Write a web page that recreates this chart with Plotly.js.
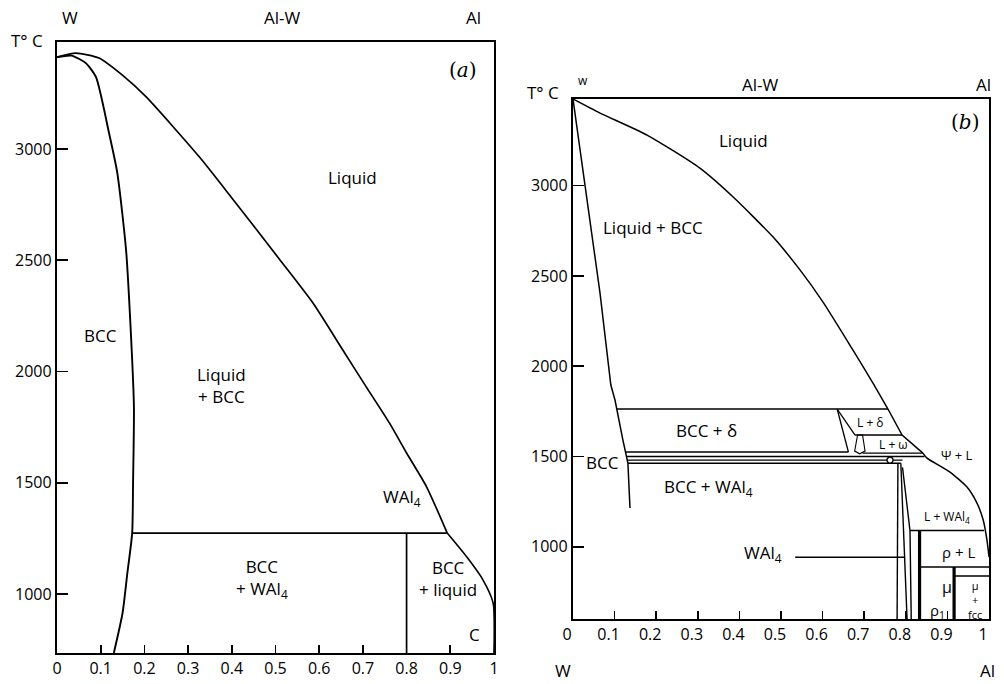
<!DOCTYPE html>
<html><head><meta charset="utf-8">
<script src="https://cdn.plot.ly/plotly-3.0.1.min.js"></script>
<style>html,body{margin:0;padding:0;background:#fff}#chart{width:1004px;height:684px}</style>
</head><body><div id="chart"></div>
<script>
// ---------- Panel (a) data: x = mole fraction Al, T in deg C ----------
const aTickX = [0,0.1,0.2,0.3,0.4,0.5,0.6,0.7,0.8,0.9,1];
const aTickXText = ["0","0.1","0.2","0.3","0.4","0.5","0.6","0.7","0.8","0.9","1"];
const aTickT = [1000,1500,2000,2500,3000];
const aLiquidusX = [0, 0.043, 0.096, 0.149, 0.204, 0.326, 0.401, 0.509, 0.585, 0.654, 0.708, 0.761, 0.80, 0.846, 0.893];
const aLiquidusT = [3413, 3431, 3409, 3333, 3234, 2964, 2778, 2505, 2310, 2097, 1930, 1768, 1634, 1481, 1274];
const aSolidusX = [0, 0.033, 0.066, 0.089, 0.119, 0.138, 0.158, 0.169, 0.176, 0.174, 0.172, 0.161, 0.15, 0.13];
const aSolidusT = [3413, 3420, 3386, 3324, 3072, 2892, 2546, 2173, 1840, 1500, 1274, 1095, 915, 735];
const aEutecticX = [0.172, 0.893];
const aEutecticT = [1274, 1274];
const aWal4X = [0.8, 0.8];
const aWal4T = [1274, 735];
const aAlSideX = [0.893, 0.938, 0.975, 0.998, 1.0];
const aAlSideT = [1274, 1166, 1063, 960, 735];

// ---------- Panel (b) data ----------
const bTickT = [1000,1500,2000,2500,3000];
const bLiquidusX = [0, 0.065, 0.178, 0.305, 0.385, 0.481, 0.546, 0.601, 0.673, 0.721, 0.757];
const bLiquidusT = [3480, 3402, 3280, 3097, 2937, 2715, 2532, 2355, 2089, 1907, 1763];
const bPeritX = [0.757, 0.791, 0.841];
const bPeritT = [1763, 1619, 1519];
const bPsiX = [0.841, 0.851, 0.906, 0.947, 0.971, 0.986, 0.995, 1.0];
const bPsiT = [1519, 1491, 1414, 1331, 1242, 1148, 1037, 943];
const bSolidusX = [0, 0.012, 0.022, 0.065, 0.091, 0.101, 0.120, 0.132, 0.137];
const bSolidusT = [3480, 3280, 3092, 2405, 1896, 1813, 1591, 1464, 1215];
const bDeltaTopX = [0.105, 0.757];
const bDeltaTopT = [1763, 1763];
const bBand1X = [0.125, 0.662];  const bBand1T = [1525, 1525];
const bBand2X = [0.128, 0.845];  const bBand2T = [1500, 1500];
const bBand3X = [0.130, 0.792];  const bBand3T = [1480, 1480];
const bBand4X = [0.132, 0.788];  const bBand4T = [1463, 1463];
const bDeltaAX = [0.635, 0.678]; const bDeltaAT = [1763, 1619];
const bDeltaBX = [0.635, 0.662]; const bDeltaBT = [1763, 1525];
const bLdeltaX = [0.678, 0.791]; const bLdeltaT = [1619, 1619];
const bLensX = [0.684, 0.677, 0.689, 0.702, 0.696, 0.684];
const bLensT = [1619, 1530, 1515, 1530, 1619, 1619];
const bLomegaX = [0.696, 0.841]; const bLomegaT = [1519, 1519];
const bCircleX = [0.762]; const bCircleT = [1480];
const bLineAX = [0.781, 0.779]; const bLineAT = [1463, 600];
const bLineBX = [0.788, 0.803]; const bLineBT = [1463, 600];
const bLineCX = [0.792, 0.810, 0.813]; const bLineCT = [1440, 1090, 600];
const bLWal4X = [0.810, 0.988]; const bLWal4T = [1090, 1090];
const bThick1X = [0.833, 0.833]; const bThick1T = [1090, 600];
const bRhoLX = [0.833, 1.0]; const bRhoLT = [888, 888];
const bThick2X = [0.916, 0.916]; const bThick2T = [888, 600];
const bMuFccX = [0.916, 1.0]; const bMuFccT = [838, 838];
const bPointerX = [0.534, 0.796]; const bPointerT = [942, 942];

const FONT = "Open Sans, Liberation Sans, sans-serif";

function ln(x, y, ax, w, shape) {
  return {x: x, y: y, xaxis: ax[0], yaxis: ax[1], type: 'scatter', mode: 'lines',
    line: {color: '#000', width: w || 1.5, shape: shape || 'linear', smoothing: 0.6},
    hoverinfo: 'skip', showlegend: false};
}
const A = ['x','y'], B = ['x2','y2'];
const traces = [
  ln(aLiquidusX, aLiquidusT, A, 1.7, 'spline'),
  ln(aSolidusX, aSolidusT, A, 1.9, 'spline'),
  ln(aEutecticX, aEutecticT, A, 1.7),
  ln(aWal4X, aWal4T, A, 1.7),
  ln(aAlSideX, aAlSideT, A, 1.6, 'spline'),

  ln(bLiquidusX, bLiquidusT, B, 1.5, 'spline'),
  ln(bPeritX, bPeritT, B, 1.5),
  ln(bPsiX, bPsiT, B, 1.5, 'spline'),
  ln(bSolidusX, bSolidusT, B, 1.5),
  ln(bDeltaTopX, bDeltaTopT, B, 1.5),
  ln(bBand1X, bBand1T, B, 1.4),
  ln(bBand2X, bBand2T, B, 1.4),
  ln(bBand3X, bBand3T, B, 1.2),
  ln(bBand4X, bBand4T, B, 1.5),
  ln(bDeltaAX, bDeltaAT, B, 1.3),
  ln(bDeltaBX, bDeltaBT, B, 1.3),
  ln(bLdeltaX, bLdeltaT, B, 1.3),
  ln(bLensX, bLensT, B, 1.1),
  ln(bLomegaX, bLomegaT, B, 1.3),
  ln(bLineAX, bLineAT, B, 1.4),
  ln(bLineBX, bLineBT, B, 1.4),
  ln(bLineCX, bLineCT, B, 1.4),
  ln(bLWal4X, bLWal4T, B, 1.5),
  ln(bThick1X, bThick1T, B, 3.2),
  ln(bRhoLX, bRhoLT, B, 1.5),
  ln(bThick2X, bThick2T, B, 3.2),
  ln(bMuFccX, bMuFccT, B, 1.5),
  ln(bPointerX, bPointerT, B, 1.4),
  {x: bCircleX, y: bCircleT, xaxis: 'x2', yaxis: 'y2', type: 'scatter', mode: 'markers',
   marker: {symbol: 'circle', size: 6, color: '#fff', line: {color: '#000', width: 1.3}},
   hoverinfo: 'skip', showlegend: false}
];

function xax(dom, anchor, shift) {
  return {domain: dom, anchor: anchor, range: [0, 1], tickmode: 'array', tickvals: aTickX, ticktext: aTickXText,
    ticks: 'inside', ticklen: 8, tickwidth: 1.6, tickcolor: '#000', showline: true, mirror: true,
    linecolor: '#000', linewidth: 2.2, showgrid: false, zeroline: false, ticklabelshift: shift || 0,
    tickfont: {family: FONT, size: 16, color: '#000'}};
}
function yax(dom, anchor, range, vals) {
  return {domain: dom, anchor: anchor, range: range, tickmode: 'array', tickvals: vals,
    ticks: 'inside', ticklen: 11, tickwidth: 1.6, tickcolor: '#000', showline: true, mirror: true,
    linecolor: '#000', linewidth: 2.2, showgrid: false, zeroline: false,
    tickfont: {family: FONT, size: 16, color: '#000'}};
}

function P(px, py) { return {x: px / 1004, y: 1 - py / 684}; }
function pa(text, px, py, size, extra) {
  const p = P(px, py);
  return Object.assign({text: text, x: p.x, y: p.y, xref: 'paper', yref: 'paper', showarrow: false,
    xanchor: 'center', yanchor: 'middle', font: {family: FONT, size: size, color: '#000'}}, extra || {});
}
function da(text, x, y, ax, size, extra) {
  return Object.assign({text: text, x: x, y: y, xref: ax[0], yref: ax[1], showarrow: false,
    xanchor: 'center', yanchor: 'middle', font: {family: FONT, size: size, color: '#000'}}, extra || {});
}
const SERIF = {family: 'DejaVu Serif, serif', size: 20, color: '#000'};

const annotations = [
  pa('W', 70, 17, 17), pa('Al-W', 282, 17, 17), pa('Al', 473, 17, 17), pa('T° C', 27, 40, 17),
  da('Liquid', 0.677, 2874, A, 17),
  da('BCC', 0.10, 2164, A, 17),
  da('Liquid<br>+ BCC', 0.376, 1935, A, 17),
  da('WAl<sub>4</sub>', 0.789, 1436, A, 17),
  da('BCC<br>+ WAl<sub>4</sub>', 0.468, 1072, A, 17),
  da('BCC<br>+ liquid', 0.895, 1072, A, 17),
  da('C', 0.956, 816, A, 17),
  da('(<i>a</i>)', 0.929, 3355, A, 20, {font: SERIF}),

  pa('w', 583, 80, 12), pa('Al-W', 760, 85, 17), pa('Al', 983, 85, 17), pa('T° C', 543, 93, 17),
  pa('W', 563, 670, 17), pa('Al', 987, 670, 17),
  da('Liquid', 0.409, 3252, B, 17),
  da('Liquid + BCC', 0.192, 2771, B, 17),
  da('(<i>b</i>)', 0.942, 3352, B, 20, {font: SERIF}),
  da('BCC + δ', 0.322, 1646, B, 17),
  da('BCC', 0.072, 1469, B, 17),
  da('BCC + WAl<sub>4</sub>', 0.325, 1331, B, 17),
  da('L + δ', 0.716, 1688, B, 12),
  da('L + ω', 0.770, 1569, B, 12),
  da('Ψ + L', 0.923, 1508, B, 13),
  da('L + WAl<sub>4</sub>', 0.899, 1165, B, 12),
  da('ρ + L', 0.926, 971, B, 15),
  da('μ', 0.899, 777, B, 16),
  da('ρ<sub>1</sub>', 0.877, 645, B, 15),
  da('μ<br>+<br>fcc', 0.966, 705, B, 11),
  da('WAl<sub>4</sub>', 0.457, 965, B, 17)
];

const layout = {
  width: 1004, height: 684, margin: {l: 0, r: 0, t: 0, b: 0},
  paper_bgcolor: '#fff', plot_bgcolor: '#fff', showlegend: false,
  font: {family: FONT, color: '#000'},
  xaxis: xax([0.0568, 0.492], 'y', 0),
  yaxis: yax([0.0453, 0.9386], 'x', [735, 3481], aTickT),
  xaxis2: xax([0.5707, 0.9851], 'y2', -6),
  yaxis2: yax([0.0950, 0.8553], 'x2', [600, 3480], bTickT),
  annotations: annotations
};
Plotly.newPlot('chart', traces, layout, {staticPlot: true, displayModeBar: false});
</script></body></html>
